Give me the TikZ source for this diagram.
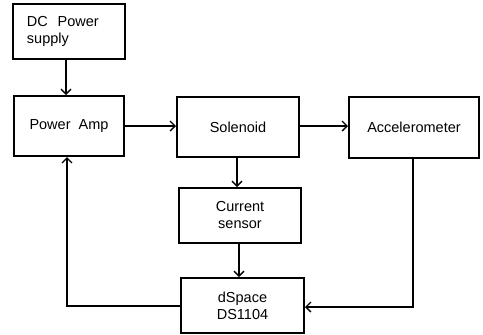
\documentclass[tikz,border=0pt]{standalone}
\usepackage{fontspec}
\setmainfont{Liberation Sans}
\usetikzlibrary{arrows.meta}
\begin{document}
\begin{tikzpicture}[x=1pt,y=-1pt,
  block/.style={draw, line width=2pt, inner sep=0pt, font=\fontsize{14.5}{17}\selectfont},
  link/.style={line width=1.3pt, -{Straight Barb[length=5pt,width=10pt,line width=1.3pt]}},
  wire/.style={line width=1.3pt}]
\useasboundingbox (0,0) rectangle (483,335);
% blocks, placed by their centres
\node[block, minimum width=112pt, minimum height=55pt, align=left, text width=83pt] (dc) at (68.5,31) {DC\ \ Power\\supply};
\node[block, minimum width=110pt, minimum height=60pt] (amp) at (69,126) {Power\ \ Amp};
\node[block, minimum width=122pt, minimum height=60pt] (sol) at (238,127) {Solenoid};
\node[block, minimum width=130pt, minimum height=61pt] (acc) at (414,127.5) {Accelerometer};
\node[block, minimum width=122pt, minimum height=55pt, align=center] (cur) at (240,215.5) {Current\\sensor};
\node[block, minimum width=123pt, minimum height=55pt, align=center] (ds) at (242.5,305.5) {dSpace\\DS1104};
% signal paths
\draw[link] (dc.south -| 66,0) -- (amp.north -| 66,0);
\draw[link] (amp.east |- 0,126) -- (sol.west |- 0,126);
\draw[link] (sol.east |- 0,126) -- (acc.west |- 0,126);
\draw[link] (sol.south -| 237,0) -- (cur.north -| 237,0);
\draw[link] (cur.south -| 239,0) -- (ds.north -| 239,0);
\draw[link] (acc.south -| 413,0) |- (ds.east |- 0,307);
\draw[link] (ds.west |- 0,306) -| (amp.south -| 67,0);
\end{tikzpicture}
\end{document}
